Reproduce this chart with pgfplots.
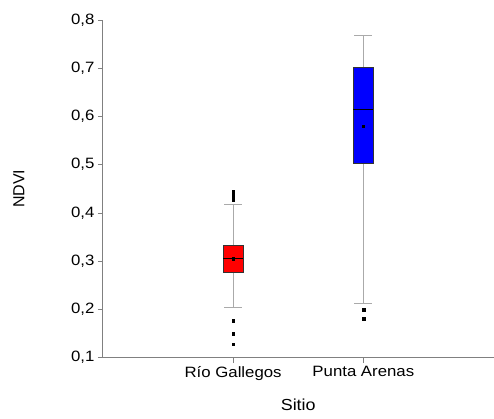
\documentclass[border=0pt]{standalone}
\usepackage{fontspec}
\setmainfont{Liberation Sans}[FakeStretch=1.12]
\newfontfamily\plainsans{Liberation Sans}
\usepackage{pgfplots}
\pgfplotsset{compat=1.18}
\usepgfplotslibrary{statistics}
\definecolor{axgray}{RGB}{128,128,128}
\definecolor{wgray}{RGB}{170,170,170}
\begin{document}
\begin{tikzpicture}
\begin{axis}[
  scale only axis, width=391pt, height=338pt,
  xmin=0, xmax=3, ymin=0.1, ymax=0.8,
  axis lines=left, axis line style={-, draw=axgray, line width=0.9pt},
  xtick={1,2}, xticklabels={Río Gallegos, Punta Arenas},
  ytick={0.1,0.2,0.3,0.4,0.5,0.6,0.7,0.8},
  /pgf/number format/assume math mode=true,
  yticklabel style={/pgf/number format/.cd, use comma, fixed, fixed zerofill, precision=1},
  tick style={draw=axgray, line width=0.6pt}, tick align=outside, major tick length=5pt,
  ticklabel style={font=\fontsize{15}{18}\selectfont, text=black},
  every axis y label/.style={at={(axis description cs:0,0.5)}, xshift=-84pt, rotate=90, anchor=center, font=\plainsans\fontsize{16}{18}\selectfont},
  every axis x label/.style={at={(axis description cs:0.5,0)}, yshift=-47pt, anchor=center, font=\fontsize{16}{18}\selectfont},
  ylabel={NDVI}, xlabel={Sitio},
  clip=false,
  boxplot/draw direction=y,
  boxplot/every whisker/.style={draw=wgray, line width=1pt},
  boxplot/every median/.style={draw=black, line width=0.8pt},
]
\addplot[boxplot prepared={draw direction=y, lower whisker=0.204, lower quartile=0.278, median=0.305, upper quartile=0.333, upper whisker=0.417, draw position=1, box extend=0.153, whisker extend=0.14},
  boxplot/every box/.style={draw=black!80, fill=red, line width=0.6pt},
  mark=square*, mark size=1.4pt, mark options={fill=black, draw=black}]
  table[row sep=\\, y index=0] {0.177\\ 0.149\\ 0.128\\ 0.444\\ 0.440\\ 0.436\\ 0.432\\ 0.428\\};
\addplot[boxplot prepared={draw direction=y, lower whisker=0.213, lower quartile=0.503, median=0.615, upper quartile=0.701, upper whisker=0.767, draw position=2, box extend=0.153, whisker extend=0.14},
  boxplot/every box/.style={draw=black!80, fill=blue, line width=0.6pt},
  mark=square*, mark size=1.4pt, mark options={fill=black, draw=black}]
  table[row sep=\\, y index=0] {0.199\\ 0.180\\};
\addplot[only marks, mark=square*, mark size=1.3pt, black] coordinates {(1,0.305) (2,0.580)};
\end{axis}
\path ([shift={(-103pt,-61pt)}]current axis.south west) rectangle ([shift={(0pt,20pt)}]current axis.north east);
\end{tikzpicture}
\end{document}
